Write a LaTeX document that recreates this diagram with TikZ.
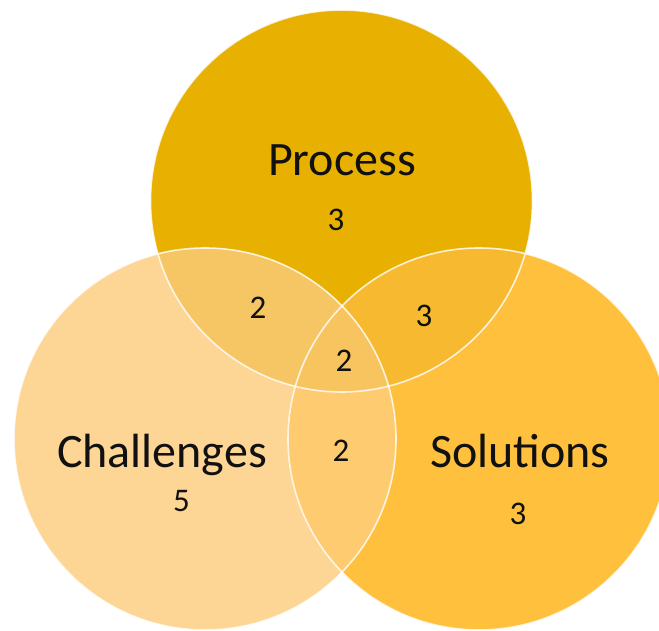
\documentclass[tikz,border=0pt]{standalone}
\usepackage{fontspec}
\setmainfont{Carlito}
\definecolor{procfill}{HTML}{E8B000}
\definecolor{chalfill}{HTML}{FDD594}
\definecolor{solfill}{HTML}{FFC03E}
\definecolor{pcfill}{HTML}{F6C665}
\definecolor{psfill}{HTML}{F7B92F}
\definecolor{csfill}{HTML}{FECB70}
\definecolor{allfill}{HTML}{F8C45F}
\definecolor{ink}{HTML}{111111}
\begin{document}
\begin{tikzpicture}[x=1pt,y=-1pt,
  setname/.style={font=\fontsize{48}{50}\selectfont, text=ink, inner sep=0pt, anchor=base},
  count/.style={font=\fontsize{33}{35}\selectfont, text=ink, inner sep=0pt},
  rim/.style={draw=white, line width=1.6pt, draw opacity=0.8}]
\useasboundingbox (0,0) rectangle (659,631);
\clip (0,0) rectangle (659,631);
\def\R{191pt}
\coordinate (P) at (341.5,201);
\coordinate (C) at (205,439);
\coordinate (S) at (479,439);

% base discs
\fill[procfill] (P) circle[radius=\R];
\fill[chalfill] (C) circle[radius=\R];
\fill[solfill]  (S) circle[radius=\R];

% pairwise overlaps
\begin{scope}
  \clip (P) circle[radius=\R];
  \fill[pcfill] (C) circle[radius=\R];
\end{scope}
\begin{scope}
  \clip (P) circle[radius=\R];
  \fill[psfill] (S) circle[radius=\R];
\end{scope}
\begin{scope}
  \clip (C) circle[radius=\R];
  \fill[csfill] (S) circle[radius=\R];
\end{scope}
% common centre
\begin{scope}
  \clip (P) circle[radius=\R];
  \clip (C) circle[radius=\R];
  \fill[allfill] (S) circle[radius=\R];
\end{scope}

% white rims
\draw[rim] (P) circle[radius=\R];
\draw[rim] (C) circle[radius=\R];
\draw[rim] (S) circle[radius=\R];

% set names
\node[setname] (process) at (342,176) {Process};
\node[setname] (challenges) at (162,467) {Challenges};
\node[setname] (solutions) at (520,467) {Solutions};

% counts
\node[count] (nP)   at (336,220) {3};
\node[count] (nPC)  at (258,308) {2};
\node[count] (nPS)  at (424,316) {3};
\node[count] (nPCS) at (344,361) {2};
\node[count] (nCS)  at (341,451) {2};
\node[count] (nC)   at (181.5,501) {5};
\node[count] (nS)   at (518,514) {3};
\end{tikzpicture}
\end{document}
